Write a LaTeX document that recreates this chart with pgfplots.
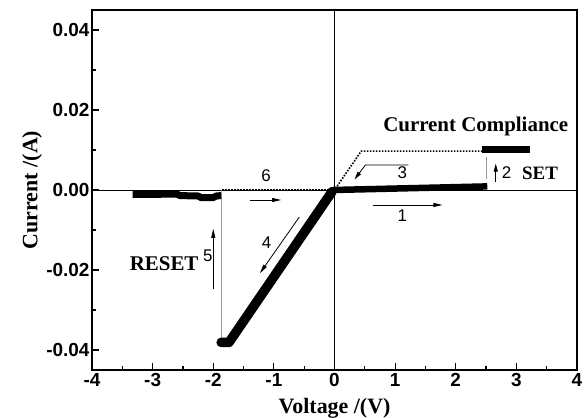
\documentclass[border=0pt]{standalone}
\usepackage{fontspec}
\setmainfont{Liberation Serif}
\newfontfamily\arial{Liberation Sans}
\usepackage{pgfplots}
\pgfplotsset{compat=1.18}
\usetikzlibrary{arrows.meta,calc}

\begin{document}
\begin{tikzpicture}
\begin{axis}[
  name=ax,
  width=485bp, height=360bp, scale only axis,
  xmin=-4, xmax=4, ymin=-0.045, ymax=0.045,
  axis line style={line width=1.6bp},
  xtick={-4,...,4}, xticklabels={-4,-3,-2,-1,0,1,2,3,4},
  ytick={-0.04,-0.02,0,0.02,0.04}, yticklabels={-0.04,-0.02,0.00,0.02,0.04},
  minor x tick num=1, minor y tick num=1,
  tick align=inside, xtick pos=bottom, ytick pos=left,
  major tick length=7bp, minor tick length=4bp,
  tick style={line width=1.2bp, black},
  scaled y ticks=false,
  /pgf/number format/assume math mode=true,
  ticklabel style={font=\arial\bfseries\fontsize{19}{19}\selectfont},
  yticklabel style={xshift=1bp},
  xlabel={\textbf{Voltage /(V)}}, ylabel={\textbf{Current /(A)}},
  label style={font=\fontsize{22}{22}\selectfont},
  xlabel style={at={(axis description cs:0.5,-0.1056)}, anchor=center},
  ylabel style={at={(axis description cs:-0.1237,0.5)}, anchor=center},
  clip=false,
]
% zero lines
\addplot[black, line width=0.9bp] coordinates {(-4,0) (4,0)};
\addplot[black, line width=0.9bp] coordinates {(0,-0.045) (0,0.045)};

% thin jumps (RESET, SET)
\addplot[gray!80, line width=0.8bp] coordinates {(-1.87,0) (-1.87,-0.0377)};
\addplot[gray!80, line width=0.8bp] coordinates {(2.5,0.0027) (2.5,0.0083)};

% dotted return branches
\addplot[black, line width=1.6bp, dash pattern=on 1.6bp off 1.4bp] coordinates {
  (2.44,0.0097) (0.44,0.0097) (0,0) (-1.87,0)};

% thick measured branches
\addplot[black, line width=7bp, line join=round] coordinates {
  (-3.33,-0.0011) (-3.0,-0.0011) (-2.6,-0.0010) (-2.55,-0.0014) (-2.25,-0.0015)
  (-2.2,-0.0019) (-2.0,-0.0019) (-1.95,-0.0015) (-1.87,-0.0014)};
\addplot[black, line width=9.5bp, line join=round, line cap=round] coordinates {
  (-1.87,-0.0381) (-1.74,-0.0381) (-0.04,-0.0004)};
\addplot[black, line width=6.5bp, line join=round] coordinates {
  (-0.02,0) (2.52,0.0009)};
\addplot[black, line width=6.5bp] coordinates {
  (2.44,0.0101) (3.22,0.0101)};

% direction arrows
\draw[line width=0.8bp, -{Triangle[length=9bp,width=4bp]}] (axis cs:0.63,-0.00375) -- (axis cs:1.78,-0.00375);
\draw[line width=0.8bp, -{Triangle[length=8bp,width=4bp]}] (axis cs:2.66,0.0020) -- (axis cs:2.66,0.0066);
\draw[line width=0.8bp, -{Triangle[length=8bp,width=4bp]}] (axis cs:1.22,0.00625) -- (axis cs:0.51,0.00625) -- (axis cs:0.33,0.00265);
\draw[line width=0.8bp, -{Triangle[length=9bp,width=4bp]}] (axis cs:-0.58,-0.00675) -- (axis cs:-1.23,-0.0208);
\draw[line width=0.8bp, -{Triangle[length=9bp,width=4bp]}] (axis cs:-2.0,-0.0248) -- (axis cs:-2.0,-0.0097);
\draw[line width=0.8bp, -{Triangle[length=9bp,width=4bp]}] (axis cs:-1.40,-0.0025) -- (axis cs:-0.88,-0.0025);

% labels
\begin{scope}[every node/.style={font=\arial\fontsize{17}{17}\selectfont, inner sep=0pt}]
\node at (axis cs:1.12,-0.0065) {1};
\node at (axis cs:2.84,0.00425) {2};
\node at (axis cs:1.12,0.00425) {3};
\node at (axis cs:-1.12,-0.01325) {4};
\node at (axis cs:-2.09,-0.0165) {5};
\node at (axis cs:-1.13,0.0035) {6};
\end{scope}
\begin{scope}[every node/.style={font=\bfseries\fontsize{21}{21}\selectfont, inner sep=0pt}]
\node at (axis cs:-2.81,-0.0185) {RESET};
\node[font=\bfseries\fontsize{19}{19}\selectfont] at (axis cs:3.39,0.00425) {SET};
\node at (axis cs:2.33,0.016) {Current Compliance};
\end{scope}
\end{axis}
\pgfresetboundingbox
\path ($(ax.south west)+(-92bp,-48bp)$) rectangle ($(ax.north east)+(10bp,10bp)$);
\end{tikzpicture}
\end{document}
